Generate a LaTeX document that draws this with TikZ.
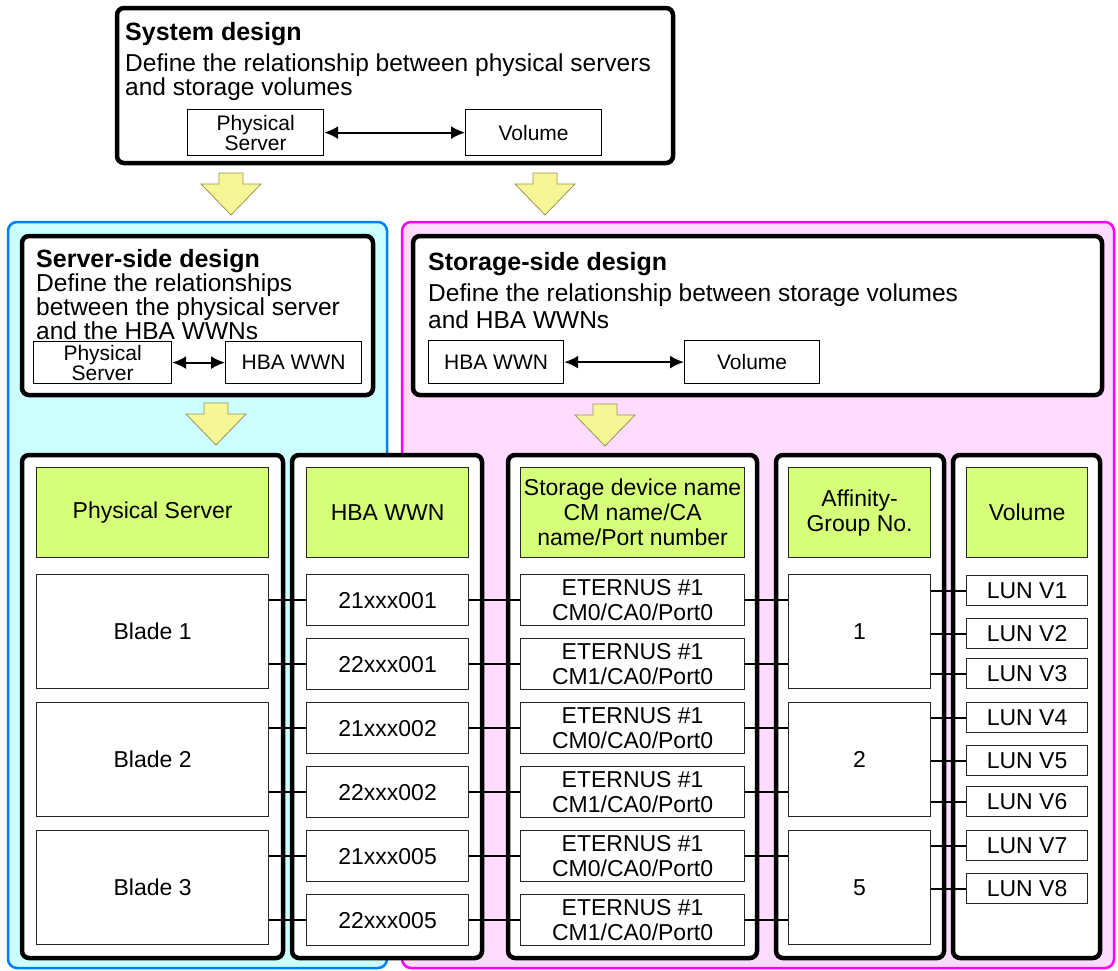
\documentclass[tikz,border=0pt]{standalone}
\usepackage{fontspec}
\setmainfont{Liberation Sans}
\usetikzlibrary{arrows.meta}

\definecolor{srvblue}{RGB}{0,128,255}
\definecolor{srvfill}{RGB}{204,255,255}
\definecolor{stomag}{RGB}{255,0,255}
\definecolor{stofill}{RGB}{255,219,255}
\definecolor{hdrgreen}{RGB}{214,255,122}
\definecolor{flowfill}{RGB}{246,246,150}
\definecolor{flowedge}{RGB}{150,150,90}

\tikzset{
  region/.style={line width=2.5pt, rounded corners=9pt},
  panel/.style={draw=black, line width=4.5pt, rounded corners=7pt, fill=white},
  ttl/.style={anchor=north west, inner sep=0pt, font=\fontsize{25}{25}\selectfont\bfseries},
  txt/.style={anchor=north west, inner sep=0pt, align=left, font=\fontsize{24.5}{24}\selectfont},
  mini/.style={draw=black, line width=1.2pt, fill=white, anchor=north west, inner sep=0pt, align=center, font=\fontsize{21}{19}\selectfont},
  cell/.style={draw=black!85, line width=1.2pt, fill=white, anchor=north west, inner sep=0pt, align=center, font=\fontsize{23}{25}\selectfont},
  hdr/.style={cell, fill=hdrgreen, minimum height=90},
  flow/.style={draw=flowedge, fill=flowfill, line width=0.8pt},
  link/.style={line width=2pt},
  both/.style={line width=2pt, {Latex[length=14pt,width=13pt]}-{Latex[length=14pt,width=13pt]}},
}

\begin{document}
\begin{tikzpicture}[x=1pt, y=-1pt]
\useasboundingbox (0,0) rectangle (1118,970);

% server and storage regions
\draw[region, draw=srvblue, fill=srvfill] (8,222) rectangle (387,968);
\draw[region, draw=stomag, fill=stofill] (402,222) rectangle (1114,968);

% system design
\draw[panel] (117,8) rectangle (673,163);
\node[ttl] (systitle) at (125,22) {System design};
\node[txt] (systext) at (125,54) {Define the relationship between physical servers\\and storage volumes};
\node[mini, minimum width=136, minimum height=46] (sysphys) at (187,109) {Physical\\Server};
\node[mini, minimum width=136, minimum height=46] (sysvol) at (465,109) {Volume};
\draw[both] (sysphys) -- (sysvol);

% flow arrows
\foreach \cx/\ty in {231/173, 545/173, 216/403, 605/404}
  \draw[flow] ({\cx-12},\ty) -- ({\cx+12},\ty) -- ({\cx+12},\ty+11) -- ({\cx+30},\ty+11)
    -- (\cx,\ty+42) -- ({\cx-30},\ty+11) -- ({\cx-12},\ty+11) -- cycle;

% server-side design
\draw[panel] (22,236) rectangle (373,395);
\node[ttl] (srvtitle) at (36,249) {Server-side design};
\node[txt, font=\fontsize{24.5}{22}\selectfont] (srvtext) at (36,274) {Define the relationships\\between the physical server\\and the HBA WWNs};
\node[mini, minimum width=138, minimum height=42] (srvphys) at (33,341) {Physical\\Server};
\node[mini, minimum width=136, minimum height=42] (srvhba) at (225,341) {HBA WWN};
\draw[both] (srvphys) -- (srvhba);

% storage-side design
\draw[panel] (413,236) rectangle (1102,395);
\node[ttl] (stotitle) at (428,252) {Storage-side design};
\node[txt, font=\fontsize{24.5}{27}\selectfont] (stotext) at (428,284) {Define the relationship between storage volumes\\and HBA WWNs};
\node[mini, minimum width=135, minimum height=43] (stohba) at (428,340) {HBA WWN};
\node[mini, minimum width=135, minimum height=43] (stovol) at (684,340) {Volume};
\draw[both] (stohba) -- (stovol);

% table columns
\draw[panel] (22,455) rectangle (283,958);
\draw[panel] (292,455) rectangle (482,958);
\draw[panel] (508,455) rectangle (757,958);
\draw[panel] (776,455) rectangle (944,958);
\draw[panel] (953,455) rectangle (1100,958);

\node[hdr, minimum width=232] (hphys) at (36,467) {Physical Server};
\node[hdr, minimum width=162] (hhba) at (306,467) {HBA WWN};
\node[hdr, minimum width=224] (hsto) at (520,467) {Storage device name\\CM name/CA\\name/Port number};
\node[hdr, minimum width=142] (hgrp) at (788,467) {Affinity-\\Group No.};
\node[hdr, minimum width=121] (hvol) at (966,467) {Volume};

% physical servers
\node[cell, minimum width=232, minimum height=114] (blade1) at (36,574) {Blade 1};
\node[cell, minimum width=232, minimum height=114] (blade2) at (36,702) {Blade 2};
\node[cell, minimum width=232, minimum height=114] (blade3) at (36,830) {Blade 3};

% HBA WWNs
\node[cell, minimum width=162, minimum height=51] (wwn1) at (306,574) {21xxx001};
\node[cell, minimum width=162, minimum height=51] (wwn2) at (306,638) {22xxx001};
\node[cell, minimum width=162, minimum height=51] (wwn3) at (306,702) {21xxx002};
\node[cell, minimum width=162, minimum height=51] (wwn4) at (306,766) {22xxx002};
\node[cell, minimum width=162, minimum height=51] (wwn5) at (306,830) {21xxx005};
\node[cell, minimum width=162, minimum height=51] (wwn6) at (306,894) {22xxx005};

% storage ports
\node[cell, minimum width=224, minimum height=51] (port1) at (520,574) {ETERNUS \#1\\CM0/CA0/Port0};
\node[cell, minimum width=224, minimum height=51] (port2) at (520,638) {ETERNUS \#1\\CM1/CA0/Port0};
\node[cell, minimum width=224, minimum height=51] (port3) at (520,702) {ETERNUS \#1\\CM0/CA0/Port0};
\node[cell, minimum width=224, minimum height=51] (port4) at (520,766) {ETERNUS \#1\\CM1/CA0/Port0};
\node[cell, minimum width=224, minimum height=51] (port5) at (520,830) {ETERNUS \#1\\CM0/CA0/Port0};
\node[cell, minimum width=224, minimum height=51] (port6) at (520,894) {ETERNUS \#1\\CM1/CA0/Port0};

% affinity groups
\node[cell, minimum width=142, minimum height=114] (grp1) at (788,574) {1};
\node[cell, minimum width=142, minimum height=114] (grp2) at (788,702) {2};
\node[cell, minimum width=142, minimum height=114] (grp5) at (788,830) {5};

% volumes
\node[cell, minimum width=121, minimum height=30] (lun1) at (966,575) {LUN V1};
\node[cell, minimum width=121, minimum height=30] (lun2) at (966,618) {LUN V2};
\node[cell, minimum width=121, minimum height=30] (lun3) at (966,658) {LUN V3};
\node[cell, minimum width=121, minimum height=30] (lun4) at (966,702) {LUN V4};
\node[cell, minimum width=121, minimum height=30] (lun5) at (966,745) {LUN V5};
\node[cell, minimum width=121, minimum height=30] (lun6) at (966,786) {LUN V6};
\node[cell, minimum width=121, minimum height=30] (lun7) at (966,830) {LUN V7};
\node[cell, minimum width=121, minimum height=30] (lun8) at (966,873) {LUN V8};

% links
\draw[link] (blade1.east |- wwn1.west) -- (wwn1.west);
\draw[link] (blade1.east |- wwn2.west) -- (wwn2.west);
\draw[link] (blade2.east |- wwn3.west) -- (wwn3.west);
\draw[link] (blade2.east |- wwn4.west) -- (wwn4.west);
\draw[link] (blade3.east |- wwn5.west) -- (wwn5.west);
\draw[link] (blade3.east |- wwn6.west) -- (wwn6.west);

\draw[link] (wwn1.east) -- (port1.west);
\draw[link] (wwn2.east) -- (port2.west);
\draw[link] (wwn3.east) -- (port3.west);
\draw[link] (wwn4.east) -- (port4.west);
\draw[link] (wwn5.east) -- (port5.west);
\draw[link] (wwn6.east) -- (port6.west);

\draw[link] (port1.east) -- (grp1.west |- port1.east);
\draw[link] (port2.east) -- (grp1.west |- port2.east);
\draw[link] (port3.east) -- (grp2.west |- port3.east);
\draw[link] (port4.east) -- (grp2.west |- port4.east);
\draw[link] (port5.east) -- (grp5.west |- port5.east);
\draw[link] (port6.east) -- (grp5.west |- port6.east);

\draw[link] (grp1.east |- lun1.west) -- (lun1.west);
\draw[link] (grp1.east |- lun2.west) -- (lun2.west);
\draw[link] (grp1.east |- lun3.west) -- (lun3.west);
\draw[link] (grp2.east |- lun4.west) -- (lun4.west);
\draw[link] (grp2.east |- lun5.west) -- (lun5.west);
\draw[link] (grp2.east |- lun6.west) -- (lun6.west);
\draw[link] (grp5.east |- lun7.west) -- (lun7.west);
\draw[link] (grp5.east |- lun8.west) -- (lun8.west);

\end{tikzpicture}
\end{document}
